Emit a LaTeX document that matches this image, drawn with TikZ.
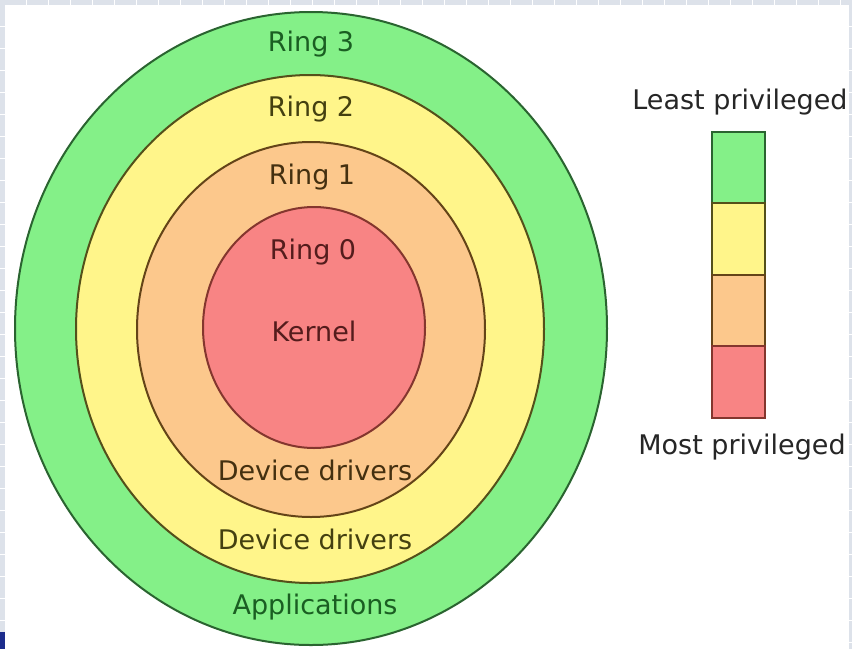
\documentclass[tikz,border=0pt]{standalone}
\usepackage{fontspec}
\setmainfont{DejaVu Sans}
\usetikzlibrary{shapes.geometric}
\definecolor{gfill}{HTML}{84F088}
\definecolor{gline}{HTML}{2A6430}
\definecolor{gtext}{HTML}{1A5E22}
\definecolor{yfill}{HTML}{FFF58A}
\definecolor{yline}{HTML}{54501A}
\definecolor{ytext}{HTML}{444010}
\definecolor{ofill}{HTML}{FCC88C}
\definecolor{oline}{HTML}{644418}
\definecolor{otext}{HTML}{443010}
\definecolor{rfill}{HTML}{F88484}
\definecolor{rline}{HTML}{84362E}
\definecolor{rtext}{HTML}{541C1C}
\definecolor{framec}{HTML}{DDE2EA}
\definecolor{markc}{HTML}{1C2C8C}
\definecolor{legtext}{HTML}{262626}
\tikzset{
  ringshape/.style={ellipse, inner sep=0pt, line width=2pt},
  lbl/.style={font=\fontsize{27}{30}\selectfont, inner sep=0pt, anchor=center},
  legcell/.style={line width=1.6pt, draw=#1}
}
\begin{document}
\begin{tikzpicture}[x=1pt,y=-1pt]
\useasboundingbox (0,0) rectangle (852,649);
% slide frame
\fill[framec] (0,0) rectangle (852,649);
\fill[white] (5,5) rectangle (849,649);
\foreach \i in {1,...,38} {\draw[white, line width=1pt] (\i*22+4,0) -- (\i*22+4,5);}
\foreach \i in {1,...,29} {\draw[white, line width=1pt] (0,\i*22+4) -- (5,\i*22+4);}
\foreach \i in {1,...,29} {\draw[white, line width=1pt] (849,\i*22+4) -- (852,\i*22+4);}
\fill[markc] (0,632) rectangle (5,649);
% rings
\node[ringshape, draw=gline, fill=gfill, minimum width=592pt, minimum height=633pt] (r3) at (311,328.5) {};
\node[ringshape, draw=yline, fill=yfill, minimum width=468pt, minimum height=508pt] (r2) at (310,329) {};
\node[ringshape, draw=oline, fill=ofill, minimum width=348pt, minimum height=375pt] (r1) at (311,329.5) {};
\node[ringshape, draw=rline, fill=rfill, minimum width=222pt, minimum height=241pt] (r0) at (314,327.5) {};
% labels
\node[lbl, text=gtext] (t3) at (311,44) {Ring 3};
\node[lbl, text=ytext] (t2) at (311,109) {Ring 2};
\node[lbl, text=otext] (t1) at (312,177) {Ring 1};
\node[lbl, text=rtext] (t0) at (313,252) {Ring 0};
\node[lbl, text=rtext] (k) at (314,331) {Kernel};
\node[lbl, text=otext] (d1) at (315,470) {Device drivers};
\node[lbl, text=ytext] (d2) at (315,539) {Device drivers};
\node[lbl, text=gtext] (ap) at (315,607) {Applications};
% legend
\draw[legcell=gline, fill=gfill] (712,132) rectangle (765,203);
\draw[legcell=yline, fill=yfill] (712,203) rectangle (765,275);
\draw[legcell=oline, fill=ofill] (712,275) rectangle (765,346);
\draw[legcell=rline, fill=rfill] (712,346) rectangle (765,418);
\node[lbl, text=legtext] (lp) at (740,102) {Least privileged};
\node[lbl, text=legtext] (mp) at (742,447) {Most privileged};
\end{tikzpicture}
\end{document}
